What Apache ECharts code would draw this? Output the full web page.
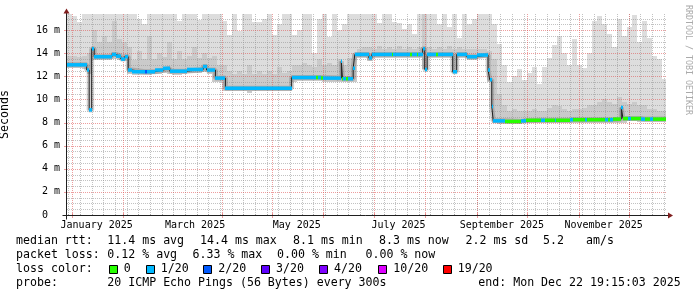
<!DOCTYPE html>
<html><head><meta charset="utf-8">
<script src="https://cdn.jsdelivr.net/npm/echarts@6/dist/echarts.min.js"></script>
<style>html,body{margin:0;padding:0;background:#fff}#c{width:697px;height:297px}</style>
</head><body><div id="c"></div>
<script>
// ---------- DATA (x in days since 2025-01-01, y in ms) ----------
const dayMin = -2.8, dayMax = 356.4, yMax = 17.4;
const monthLabels = ['January 2025','March 2025','May 2025','July 2025','September 2025','November 2025'];
const monthLabelDays = [15, 74, 135, 196, 258, 319];
const majorGridDays = [0, 31, 90, 120, 151, 181, 212, 243, 273, 304, 334];
const minorGridDays = [-2,5,12,19,26,33,40,47,54,61,68,75,82,89,96,103,110,117,124,131,138,145,152,159,166,173,180,187,194,201,208,215,222,229,236,243,250,257,264,271,278,285,292,299,306,313,320,327,334,341,348,355];
const yTickValues = [0,2,4,6,8,10,12,14,16];
const yTickLabels = ['0  ','2 m','4 m','6 m','8 m','10 m','12 m','14 m','16 m'];
const yMinorTicks = [0.5,1,1.5,2.5,3,3.5,4.5,5,5.5,6.5,7,7.5,8.5,9,9.5,10.5,11,11.5,12.5,13,13.5,14.5,15,15.5,16.5,17];

// smoke: 3-day buckets starting at smokeStart
const smokeStart = -2.8, smokeStep = 3;
const smokeMax = [
17.4,17.2,16.7,17.4,17.4,17.4,17.4,17.4,17.4,17.4,
17.4,17.4,17.4,17.4,17.0,16.5,17.4,17.4,17.4,17.4,
17.4,17.4,16.8,17.4,17.4,17.4,16.9,17.4,17.4,17.4,
17.4,16.8,15.6,17.4,15.9,17.4,17.4,16.7,16.7,17.0,
17.4,15.6,16.5,17.4,17.4,15.6,16.0,17.4,17.4,14.0,
17.0,17.4,15.4,17.4,16.0,16.5,17.4,17.4,17.4,17.4,
17.4,17.4,16.6,17.4,17.4,16.7,16.6,16.1,16.5,15.7,
17.4,17.4,17.4,17.4,16.5,17.4,16.3,17.4,15.3,17.4,
16.5,17.0,17.4,17.4,17.4,16.5,14.8,13.0,11.5,12.0,
12.6,11.7,12.3,12.8,11.3,12.8,13.6,14.7,15.5,14.0,
13.0,15.2,13.0,12.7,14.0,16.8,17.2,16.5,15.7,14.5,
17.0,15.5,16.3,17.3,15.0,16.8,15.3,13.8,13.5,11.8];
const smokeHi = [
13.8,13.8,13.7,13.8,14.0,16.0,15.0,15.5,15.0,16.8,
15.2,15.0,14.5,13.4,14.2,13.5,15.5,13.5,14.0,13.7,
15.0,13.5,14.2,13.5,13.8,14.5,13.6,14.0,13.6,13.8,
13.0,13.0,12.5,12.2,12.5,12.2,13.0,12.2,12.5,12.2,
12.5,12.2,12.8,12.3,12.5,13.0,13.0,13.2,13.0,12.8,
13.5,13.0,13.2,13.0,13.5,13.0,13.6,14.0,14.4,14.5,
14.5,14.4,14.6,14.4,14.5,14.4,14.6,14.4,14.5,14.4,
14.5,17.4,14.5,14.4,14.5,14.4,14.6,14.4,14.5,14.4,
14.4,14.4,14.4,14.4,14.2,13.5,10.5,9.5,9.0,9.2,
9.0,9.0,9.0,9.2,9.0,9.0,9.3,9.5,9.4,9.2,
9.0,9.2,9.2,9.3,9.5,9.5,9.8,10.0,9.8,9.6,
10.2,9.8,9.6,9.8,9.5,9.5,9.2,9.2,9.0,9.0];
const smokeLo = [
12.7,12.7,12.7,12.6,12.2,13.4,13.4,13.4,13.4,13.5,
13.4,13.3,12.2,12.1,12.1,12.1,12.1,12.2,12.2,12.3,
12.2,12.15,12.15,12.2,12.3,12.3,12.3,12.4,12.2,11.5,
11.5,10.7,10.7,10.7,10.7,10.7,10.6,10.7,10.7,10.7,
10.7,10.7,10.7,10.7,10.7,11.5,11.6,11.6,11.6,11.6,
11.6,11.55,11.55,11.55,11.5,11.5,11.5,11.5,13.6,13.6,
13.3,13.6,13.6,13.6,13.6,13.6,13.6,13.6,13.6,13.6,
13.6,12.6,13.6,13.6,13.6,13.6,13.6,12.3,13.6,13.6,
13.4,13.4,13.55,13.55,11.5,8.0,7.9,7.9,7.9,7.9,
7.9,8.0,8.0,8.0,8.0,8.0,8.0,8.0,8.0,8.0,
8.0,8.0,8.0,8.0,8.0,8.0,8.0,8.0,8.0,8.0,
8.0,8.0,8.1,8.1,8.05,8.05,8.05,8.05,8.05,8.05];

// median rtt segments: start day, value (ms), lost pings of 20
const medianStart = [-2.8,9.0,10.5,12.0,13.5,24.2,26.5,29.5,31.7,33.9,36.0,44.0,45.2,49.9,54.9,58.9,68.9,78.9,80.9,86.2,92.2,131.9,146.8,147.8,149.8,150.8,161.7,162.4,163.0,164.8,165.8,168.8,169.8,178.2,180.0,191.8,192.8,202.7,203.9,206.8,207.8,210.5,211.7,213.2,218.7,219.7,228.5,230.9,236.9,242.9,249.7,250.7,251.9,252.8,259.7,269.7,272.7,281.7,283.7,289.8,290.7,298.6,300.4,307.6,308.8,319.6,321.4,322.6,324.4,329.6,330.6,333.4,335.6,341.6,343.6,346.6,348.4];
const medianValue = [13.0,12.55,9.1,14.4,13.7,13.9,13.75,13.5,13.7,12.55,12.4,12.4,12.4,12.55,12.7,12.45,12.6,12.85,12.55,11.85,10.97,11.9,11.9,11.9,11.85,11.85,13.3,11.8,11.8,11.8,11.8,12.7,13.9,13.6,13.9,13.9,13.9,13.9,13.9,13.9,13.9,14.4,12.6,13.9,13.9,13.9,12.4,13.9,13.7,13.85,12.55,11.7,9.4,8.15,8.1,8.15,8.2,8.2,8.2,8.2,8.2,8.25,8.25,8.25,8.25,8.25,8.25,8.25,8.3,9.3,8.35,8.35,8.35,8.3,8.3,8.3,8.3];
const medianLoss = [1,1,1,1,1,1,1,1,1,1,1,2,1,1,1,1,1,1,1,1,1,1,0,1,0,1,1,0,1,0,1,1,1,1,1,0,1,0,1,0,1,1,1,1,0,1,1,1,1,1,1,1,1,1,0,1,0,1,0,1,0,1,0,1,0,1,0,1,0,1,0,1,0,1,0,1,0];

const lossLevels = [0,1,2,3,4,10,19];
const lossLabels = ['0','1/20','2/20','3/20','4/20','10/20','19/20'];
const lossColors = ['#26ff00','#00b8ff','#0059ff','#5e00ff','#7e00ff','#dd00ff','#ff0000'];

const rttStats = ['11.4 ms avg','14.4 ms max','8.1 ms min','8.3 ms now','2.2 ms sd','5.2','am/s'];
const lossStats = ['0.12 % avg','6.33 % max','0.00 % min','0.00 % now'];
const probeText = '20 ICMP Echo Pings (56 Bytes) every 300s';
const endText = 'end: Mon Dec 22 19:15:03 2025';
const yName = 'Seconds';
const watermark = 'RRDTOOL / TOBI OETIKER';

// ---------- LAYOUT / STYLE ----------
const FONT = '"DejaVu Sans Mono", monospace';
const LF = '11.6px ' + FONT;
const rttX = [107.3,200,293,379,465.5,543,586];
const lossX = [107.3,192.5,277,365.5];
const swatchX = [108.7,145.7,203.3,261,319,378.3,442.7];
const lineY = [241, 254.8, 269.2, 282.8];
const GRIDC = 'rgba(143,143,143,0.55)', MGRIDC = 'rgba(222,79,79,0.55)';

function lossColor(c){ let k=0; for (let j=0;j<lossLevels.length;j++) if (c>=lossLevels[j]) k=j; return lossColors[k]; }

const smokeData = smokeMax.map((m,i)=>[smokeStart+i*smokeStep, smokeStart+(i+1)*smokeStep, smokeLo[i], smokeHi[i], m]);
const nMed = medianStart.length;
const medData = medianStart.map((s,i)=>[s, i+1<nMed ? medianStart[i+1] : dayMax, medianValue[i], medianLoss[i]]);
const medLine = medianStart.map((s,i)=>[s, medianValue[i]]).concat([[dayMax, medianValue[nMed-1]]]);

function vGrid(color, down, up){
  return function(params, api){
    const d = api.value(0);
    const p0 = api.coord([d,0]), p1 = api.coord([d,yMax]);
    const x = Math.round(p0[0]) + 0.5;
    return {type:'group', children:[
      {type:'line', shape:{x1:x,y1:p0[1],x2:x,y2:p1[1]}, style:{stroke:color,lineWidth:1,lineDash:[1,1]}},
      {type:'line', shape:{x1:x,y1:p0[1]-up,x2:x,y2:p0[1]+down}, style:{stroke:color,lineWidth:1}}
    ]};
  };
}
function hGrid(color, tick){
  return function(params, api){
    const v = api.value(1);
    const p0 = api.coord([dayMin,v]), p1 = api.coord([dayMax,v]);
    const y = Math.round(p0[1]) + 0.5;
    const ch = [{type:'line', shape:{x1:p0[0],y1:y,x2:p1[0],y2:y}, style:{stroke:color,lineWidth:1,lineDash:[1,1]}}];
    if (tick) ch.push({type:'line', shape:{x1:p0[0]-3,y1:y,x2:p0[0],y2:y}, style:{stroke:color,lineWidth:1}});
    return {type:'group', children:ch};
  };
}

const chart = echarts.init(document.getElementById('c'), null, {width:697, height:297});
chart.setOption({
  animation:false,
  backgroundColor:'#ffffff',
  grid:{left:67, top:14, width:599, height:201, containLabel:false, outerBoundsMode:'none'},
  xAxis:{type:'value', min:dayMin, max:dayMax,
    axisLine:{show:false}, axisTick:{show:false}, splitLine:{show:false},
    axisLabel:{customValues:monthLabelDays, formatter:v=>{const k=monthLabelDays.indexOf(v);return k>=0?monthLabels[k]:'';},
      fontFamily:FONT, fontSize:10, color:'#000', margin:5}},
  yAxis:{type:'value', min:0, max:yMax, interval:2,
    axisLine:{show:false}, axisTick:{show:false}, splitLine:{show:false},
    axisLabel:{formatter:v=>{const k=yTickValues.indexOf(v);return k>=0?yTickLabels[k]:'';}, fontFamily:FONT, fontSize:10, color:'#000', margin:7},
    name:yName, nameLocation:'middle', nameGap:56, nameRotate:90,
    nameTextStyle:{fontFamily:FONT, fontSize:11.6, color:'#000'}},
  series:[
    {type:'custom', name:'smoke', z:1, clip:true, silent:true, data:smokeData, encode:{x:[0,1], y:[2,3,4]},
      renderItem:function(params, api){
        const s=api.value(0), e=api.value(1), lo=api.value(2), hi=api.value(3), mx=api.value(4);
        const x0=Math.round(api.coord([s,0])[0]), x1=Math.round(api.coord([e,0])[0]);
        const yl=Math.round(api.coord([s,lo])[1]), yh=Math.round(api.coord([s,hi])[1]), ym=Math.round(api.coord([s,mx])[1]);
        return {type:'group', children:[
          {type:'rect', shape:{x:x0,y:ym,width:x1-x0,height:yl-ym}, style:{fill:'#dddddd'}},
          {type:'rect', shape:{x:x0,y:yh,width:x1-x0,height:yl-yh}, style:{fill:'#cacaca'}}
        ]};
      }},
    {type:'custom', z:2, silent:true, data:minorGridDays.map(d=>[d,0]), encode:{x:0,y:1}, renderItem:vGrid(GRIDC,1,1)},
    {type:'custom', z:2, silent:true, data:yMinorTicks.map(v=>[dayMin,v]), encode:{x:0,y:1}, renderItem:hGrid(GRIDC,false)},
    {type:'custom', z:2, silent:true, data:majorGridDays.map(d=>[d,0]), encode:{x:0,y:1}, renderItem:vGrid(MGRIDC,3,2)},
    {type:'custom', z:2, silent:true, data:yTickValues.slice(1).map(v=>[dayMin,v]), encode:{x:0,y:1}, renderItem:hGrid(MGRIDC,true)},
    {type:'line', z:3, silent:true, step:'end', showSymbol:false, data:medLine,
      lineStyle:{width:5, color:'rgba(100,100,100,0.3)'}},
    {type:'line', z:4, silent:true, step:'end', showSymbol:false, data:medLine,
      lineStyle:{width:1, color:'#202020'}},
    {type:'custom', z:5, clip:true, silent:true, data:medData, encode:{x:[0,1], y:2},
      renderItem:function(params, api){
        const s=api.value(0), e=api.value(1), v=api.value(2), c=api.value(3);
        const a=api.coord([s,v]), b=api.coord([e,v]);
        const x0=Math.round(a[0]), x1=Math.max(Math.round(b[0]), x0+1);
        return {type:'rect', shape:{x:x0,y:a[1]-1.75,width:x1-x0,height:3.5}, style:{fill:lossColor(c)}};
      }}
  ]
});

// axes, arrows and legend texts
const pO = chart.convertToPixel({gridIndex:0},[dayMin,0]);
const pR = chart.convertToPixel({gridIndex:0},[dayMax,0]);
const pT = chart.convertToPixel({gridIndex:0},[dayMin,yMax]);
const ax = Math.round(pO[0]) - 0.5, ay = Math.round(pO[1]) + 0.5;
const g = [];
g.push({type:'line', z:10, shape:{x1:ax-4,y1:ay,x2:pR[0]+3,y2:ay}, style:{stroke:'#1f1f1f',lineWidth:1}});
g.push({type:'line', z:10, shape:{x1:ax,y1:ay+4,x2:ax,y2:pT[1]-1}, style:{stroke:'#1f1f1f',lineWidth:1}});
g.push({type:'polygon', z:10, shape:{points:[[pR[0]+2,ay-3],[pR[0]+7,ay],[pR[0]+2,ay+3]]}, style:{fill:'#801f1f'}});
g.push({type:'polygon', z:10, shape:{points:[[ax-3,pT[1]-0.5],[ax,pT[1]-5.5],[ax+3,pT[1]-0.5]]}, style:{fill:'#801f1f'}});
function txt(x,y,t){ return {type:'text', z:10, x:x, y:y, style:{text:t, font:LF, fill:'#000', align:'left', verticalAlign:'middle'}}; }
g.push(txt(16, lineY[0], 'median rtt:'));
rttStats.forEach((t,i)=>g.push(txt(rttX[i], lineY[0], t)));
g.push(txt(16, lineY[1], 'packet loss:'));
lossStats.forEach((t,i)=>g.push(txt(lossX[i], lineY[1], t)));
g.push(txt(16, lineY[2], 'loss color:'));
lossLabels.forEach((t,i)=>{
  g.push({type:'rect', z:10, shape:{x:Math.round(swatchX[i])+0.5, y:265.5, width:8, height:8}, style:{fill:lossColors[i], stroke:'#000', lineWidth:1}});
  g.push(txt(swatchX[i]+15, lineY[2], t));
});
g.push(txt(16, lineY[3], 'probe:'));
g.push(txt(107.3, lineY[3], probeText));
g.push(txt(478.3, lineY[3], endText));
g.push({type:'text', z:10, x:688, y:5, rotation:-Math.PI/2, style:{text:watermark, font:'8.3px '+FONT, fill:'#aaaaaa', align:'left', verticalAlign:'middle'}});
chart.setOption({graphic:g});
</script></body></html>
